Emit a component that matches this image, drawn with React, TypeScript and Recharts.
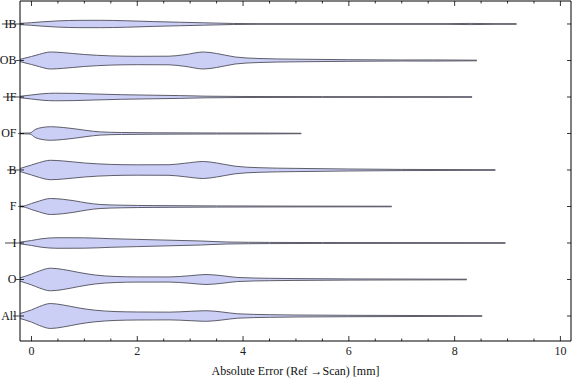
import { ComposedChart, Area, XAxis, YAxis } from "recharts";

// rows from top to bottom
const categories = ["IB", "OB", "IF", "OF", "B", "F", "I", "O", "All"];

// violin half-widths (in row units) read at error values [mm]
const ibProfile = [
  [-0.22, 0.016], [0, 0.036], [0.16, 0.055], [0.5, 0.085], [0.9, 0.1], [1.3, 0.101],
  [1.8, 0.088], [2.3, 0.066], [2.8, 0.048], [3.25, 0.033], [3.82, 0.014], [4.3, 0.008],
  [7.8, 0.008], [8.3, 0.016], [8.8, 0.008], [9.17, 0.008],
];
const obProfile = [
  [-0.22, 0.03], [0, 0.11], [0.15, 0.17], [0.36, 0.233], [0.6, 0.214], [1.0, 0.164],
  [1.5, 0.126], [2.0, 0.115], [2.6, 0.118], [2.9, 0.16], [3.25, 0.233], [3.5, 0.192],
  [3.85, 0.096], [4.3, 0.055], [5, 0.036], [6, 0.022], [7, 0.014], [7.6, 0.016],
  [8.42, 0.008],
];
const ifProfile = [
  [-0.22, 0.019], [0, 0.055], [0.2, 0.088], [0.45, 0.104], [0.8, 0.099], [1.2, 0.082],
  [1.7, 0.063], [2.3, 0.049], [2.8, 0.038], [3.3, 0.022], [4, 0.014], [5.5, 0.01],
  [8.33, 0.008],
];
const ofProfile = [
  [-0.22, 0.008], [-0.03, 0.014], [0.07, 0.11], [0.2, 0.164], [0.36, 0.186], [0.6, 0.164],
  [0.8, 0.132], [1.05, 0.082], [1.3, 0.044], [1.7, 0.027], [2.3, 0.019], [3.5, 0.014],
  [4.5, 0.011], [5.1, 0.006],
];
const bProfile = [
  [-0.22, 0.041], [0, 0.137], [0.15, 0.205], [0.36, 0.266], [0.6, 0.247], [1.0, 0.192],
  [1.5, 0.153], [2.0, 0.142], [2.6, 0.145], [2.9, 0.185], [3.25, 0.233], [3.5, 0.192],
  [3.85, 0.104], [4.3, 0.063], [5, 0.044], [6, 0.027], [7, 0.016], [8.77, 0.008],
];
const fProfile = [
  [-0.22, 0.008], [-0.15, 0.014], [0, 0.082], [0.15, 0.151], [0.36, 0.219], [0.6, 0.197],
  [0.8, 0.159], [1.05, 0.096], [1.3, 0.055], [1.7, 0.036], [2.3, 0.025], [3.5, 0.016],
  [5, 0.011], [6.81, 0.008],
];
const iProfile = [
  [-0.22, 0.022], [0, 0.068], [0.2, 0.118], [0.5, 0.145], [1.0, 0.142], [1.5, 0.118],
  [2.0, 0.099], [2.6, 0.077], [3.2, 0.055], [3.7, 0.027], [4.5, 0.016], [5.5, 0.012],
  [8.96, 0.008],
];
const oProfile = [
  [-0.22, 0.046], [0, 0.148], [0.15, 0.233], [0.36, 0.31], [0.6, 0.274], [0.9, 0.192],
  [1.2, 0.123], [1.6, 0.082], [2.0, 0.071], [2.6, 0.07], [3.0, 0.104], [3.3, 0.137],
  [3.6, 0.104], [3.9, 0.055], [4.5, 0.033], [5, 0.025], [6, 0.016], [8.23, 0.008],
];
const allProfile = [
  [-0.22, 0.068], [0, 0.167], [0.15, 0.26], [0.36, 0.342], [0.6, 0.301], [0.9, 0.219],
  [1.2, 0.159], [1.6, 0.121], [2.0, 0.11], [2.6, 0.106], [3.0, 0.128], [3.3, 0.145],
  [3.6, 0.11], [3.9, 0.06], [4.5, 0.036], [5, 0.027], [6, 0.019], [8.52, 0.008],
];

// where each violin's thin left tail begins (outside the frame)
const tailStarts = [-0.56, -0.29, -0.54, -0.25, -0.46, -0.25, -0.5, -0.29, -0.35];

const profiles = [
  ibProfile, obProfile, ifProfile, ofProfile, bProfile, fProfile, iProfile, oProfile, allProfile,
];

const xTicks = [0, 0.5, 1, 1.5, 2, 2.5, 3, 3.5, 4, 4.5, 5, 5.5, 6, 6.5, 7, 7.5, 8, 8.5, 9, 9.5, 10];
const xLabels = [0, 2, 4, 6, 8, 10];
const rowTicks = [1, 2, 3, 4, 5, 6, 7, 8, 9];

const X_MIN = -0.217;
const X_MAX = 10.2;
const Y_DOMAIN = [0.315, 9.63];
const W = 576;
const H = 381;
const LEFT = 20;
const RIGHT = 5;
const PX_PER_X = (W - LEFT - RIGHT) / (X_MAX - X_MIN);

const FONT = "'Liberation Serif', 'Times New Roman', serif";

const rowOf = (i: number) => categories.length - i;

const BottomTick = (props: any) => {
  const { x, y, payload } = props;
  const v = payload.value;
  const major = xLabels.includes(v);
  return (
    <g>
      <line x1={x} x2={x} y1={y} y2={y - (major ? 5 : 2.5)} stroke="#000" strokeWidth={0.8} />
      {major && (
        <text x={x} y={y + 14} textAnchor="middle" fontFamily={FONT} fontSize={12} fill="#222">
          {v}
        </text>
      )}
    </g>
  );
};

const TopTick = (props: any) => {
  const { x, y, payload } = props;
  const major = xLabels.includes(payload.value);
  return <line x1={x} x2={x} y1={y} y2={y + (major ? 5 : 2.5)} stroke="#000" strokeWidth={0.8} />;
};

const LeftTick = (props: any) => {
  const { x, y, payload } = props;
  const i = categories.length - payload.value;
  const tailPx = LEFT + (tailStarts[i] - X_MIN) * PX_PER_X;
  return (
    <g>
      <line x1={tailPx} x2={x} y1={y} y2={y} stroke="#444" strokeWidth={1} />
      <line x1={x} x2={x + 4} y1={y} y2={y} stroke="#000" strokeWidth={0.8} />
      <text x={x - 3.5} y={y + 4} textAnchor="end" fontFamily={FONT} fontSize={12} fill="#111">
        {categories[i]}
      </text>
    </g>
  );
};

const RightTick = (props: any) => {
  const { x, y } = props;
  return <line x1={x} x2={x - 4} y1={y} y2={y} stroke="#000" strokeWidth={0.8} />;
};

export default function App() {
  return (
    <div style={{ position: "absolute", left: 0, top: 0, background: "#fff" }}>
      <ComposedChart width={W} height={H} margin={{ top: 0, right: RIGHT - 1, bottom: 0, left: 0 }}>
        <XAxis
          xAxisId="b"
          dataKey="x"
          type="number"
          domain={[X_MIN, X_MAX]}
          allowDataOverflow
          ticks={xTicks}
          interval={0}
          tickSize={0}
          tickMargin={0}
          tick={<BottomTick />}
          height={40}
          axisLine={{ stroke: "#000" }}
          label={{
            value: "Absolute Error (Ref \u2192Scan) [mm]",
            position: "insideBottom",
            offset: 6,
            fontFamily: FONT,
            fontSize: 12,
            fill: "#111",
          }}
        />
        <XAxis
          xAxisId="t"
          orientation="top"
          dataKey="x"
          type="number"
          domain={[X_MIN, X_MAX]}
          allowDataOverflow
          ticks={xTicks}
          interval={0}
          tickSize={0}
          tickMargin={0}
          tick={<TopTick />}
          height={1}
          axisLine={{ stroke: "#000" }}
        />
        <YAxis
          yAxisId="l"
          type="number"
          domain={Y_DOMAIN}
          allowDataOverflow
          ticks={rowTicks}
          interval={0}
          tickSize={0}
          tickMargin={0}
          tick={<LeftTick />}
          width={LEFT}
          axisLine={{ stroke: "#000" }}
        />
        <YAxis
          yAxisId="r"
          orientation="right"
          type="number"
          domain={Y_DOMAIN}
          allowDataOverflow
          ticks={rowTicks}
          interval={0}
          tickSize={0}
          tickMargin={0}
          tick={<RightTick />}
          width={1}
          axisLine={{ stroke: "#000" }}
        />
        {profiles.map((profile, i) => {
          const row = rowOf(i);
          const data = profile.map(([x, w]) => ({ x, w }));
          return (
            <Area
              key={categories[i]}
              xAxisId="b"
              yAxisId="l"
              data={data}
              dataKey={(d: any) => [row - d.w, row + d.w]}
              type="monotone"
              stroke="#4e4e5a"
              strokeWidth={0.9}
              fill="#cbcff5"
              fillOpacity={1}
              dot={false}
              activeDot={false}
              isAnimationActive={false}
            />
          );
        })}
      </ComposedChart>
    </div>
  );
}
